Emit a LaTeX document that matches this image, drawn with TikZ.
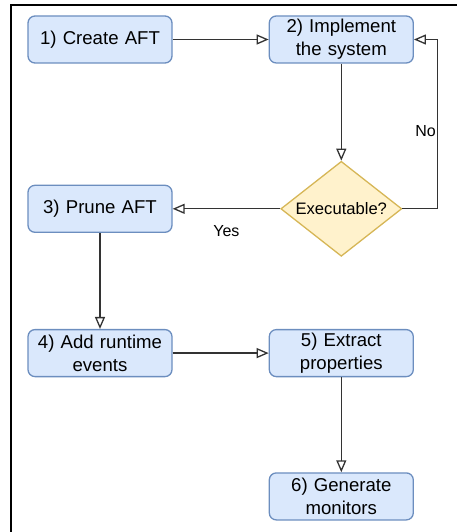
\documentclass[tikz,border=0pt]{standalone}
\usepackage{fontspec}
\setmainfont{Liberation Sans}
\usetikzlibrary{shapes.geometric}
\usetikzlibrary{arrows.meta}
\usetikzlibrary{positioning}
\definecolor{StepFill}{HTML}{DAE8FC}
\definecolor{StepLine}{HTML}{6C8EBF}
\definecolor{TestFill}{HTML}{FFF2CC}
\definecolor{TestLine}{HTML}{D6B656}
\tikzstyle{BlueBody}  = [fill=StepFill, draw=StepLine, font=\fontsize{18.6pt}{23pt}\selectfont]
\tikzstyle{YellowBody} = [fill=TestFill, draw=TestLine, font=\fontsize{16.6pt}{20pt}\selectfont]
\tikzstyle{Box}       = [rectangle, rounded corners=7pt, line width=1.3pt, minimum width=144pt, minimum height=47pt, inner sep=2pt, text width=138pt, align=center]
\tikzstyle{Test}      = [diamond, shape aspect=1.27, line width=1.3pt, minimum width=121pt, minimum height=95pt, inner sep=0pt]
\tikzstyle{Flow}      = [draw=black!80, line width=1.3pt, -{Triangle[open, length=12pt, width=10pt]}]
\tikzstyle{Answer}    = [font=\fontsize{16pt}{19pt}\selectfont, text=black]

\begin{document}
\begin{tikzpicture}

\useasboundingbox (0pt,0pt) rectangle (457pt,-532pt);
\draw [line width=1.5pt] (10pt,-5pt) -- (457pt,-5pt);
\draw [line width=1.5pt] (11pt,-5pt) -- (11pt,-532pt);

%% ------------------------------------------------------------------ [ Build ]
\node (create) [Box, BlueBody] at (100pt,-39.5pt) {1) Create AFT};
\node (impl) [Box, BlueBody,
              right = 96pt of create] {2) Implement\\the system};
\node (check) [Test, YellowBody,
               below = 97pt of impl] {Executable?};
\node (prune) [Box, BlueBody,
               below = 121pt of create] {3) Prune AFT};

%% ----------------------------------------------------------------- [ Monitor ]
\node (events) [Box, BlueBody,
                below = 96pt of prune] {4) Add runtime\\events};
\node (extract) [Box, BlueBody,
                 right = 96pt of events] {5) Extract\\properties};
\node (monitors) [Box, BlueBody,
                  below = 95pt of extract] {6) Generate\\monitors};

\draw [Flow] (create) -- (impl);
\draw [Flow] (impl) -- (check);
\draw [Flow] (check.east) -- ++(35pt,0) |- node [Answer, pos=0.23, left, inner sep=1pt] {No} (impl.east);
\draw [Flow] (check) -- node [Answer, below=13pt] {Yes} (prune);
\draw [Flow] (prune) -- (events);
\draw [Flow] (events) -- (extract);
\draw [Flow] (extract) -- (monitors);
\end{tikzpicture}
\end{document}
